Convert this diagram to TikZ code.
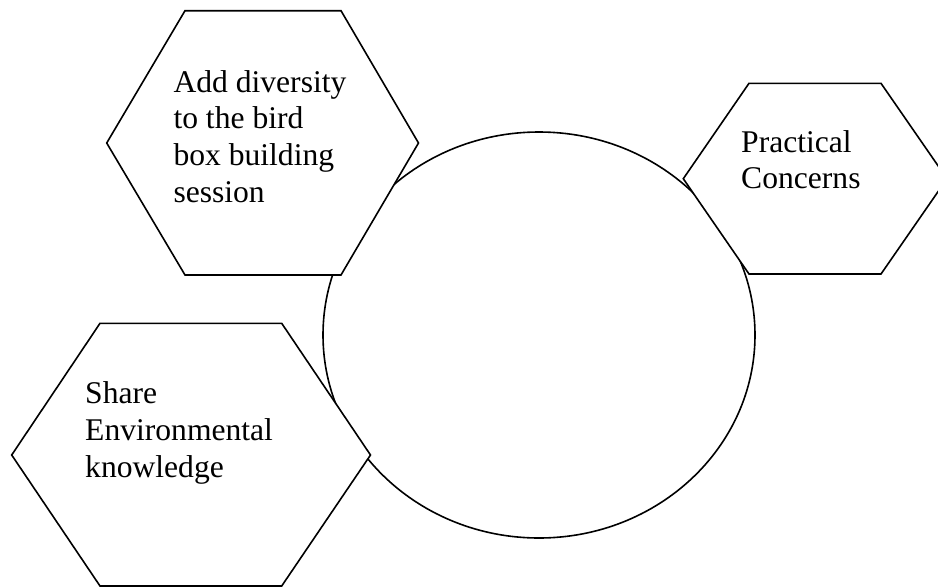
\documentclass[tikz,border=0pt]{standalone}
\usepackage{fontspec}
\setmainfont{Liberation Serif}
\tikzset{
  hexa/.style={draw, fill=white, line width=1.6pt, line join=miter},
  hextext/.style={anchor=north west, inner sep=0pt, align=left, font=\fontsize{31.6}{36.8}\selectfont},
}
\begin{document}
\begin{tikzpicture}[x=1pt,y=-1pt]
    \useasboundingbox (0,0) rectangle (938,587);
    % centre circle, hexagons are laid over it
    \draw[line width=1.6pt] (539,335) ellipse [x radius=216, y radius=203];
    \draw[hexa] (106.7,143) -- (185,10.7) -- (341,10.7) -- (418.5,143) -- (341,275) -- (185,275) -- cycle;
    \draw[hexa] (683.3,178.7) -- (749,83.3) -- (881,83.3) -- (947,178.7) -- (881,274) -- (749,274) -- cycle;
    \draw[hexa] (11.7,455) -- (100,323.3) -- (281.7,323.3) -- (370.5,455) -- (281.7,586) -- (100,586) -- cycle;
    \node[hextext] (birdbox) at (173.3,70) {Add diversity\\to the bird\\box building\\session};
    \node[hextext] (practical) at (741,130) {Practical\\Concerns};
    \node[hextext] (share) at (85,381.7) {Share\\Environmental\\knowledge};
\end{tikzpicture}
\end{document}
